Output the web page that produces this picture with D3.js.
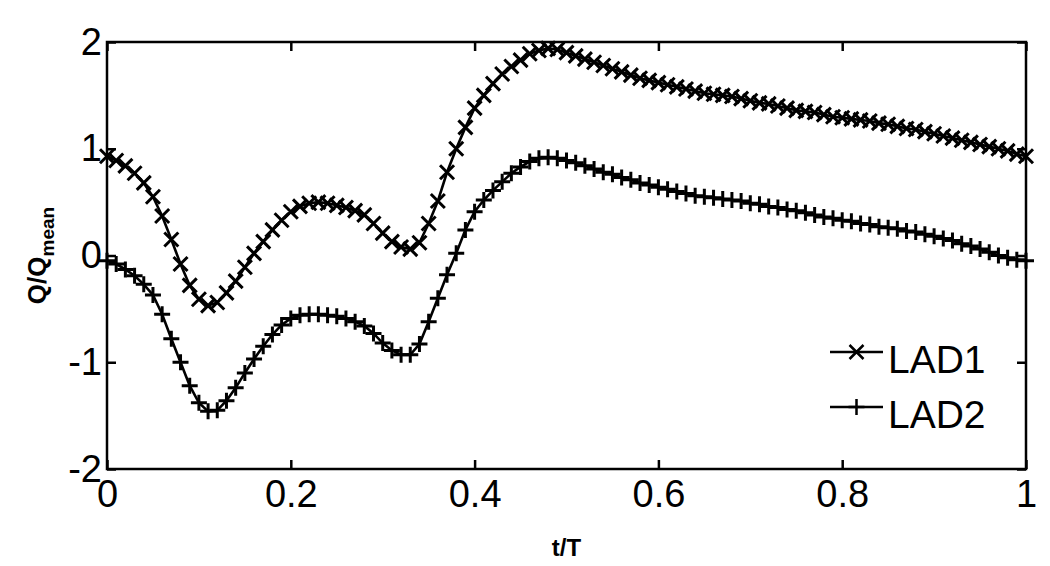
<!DOCTYPE html>
<html>
<head>
<meta charset="utf-8">
<script src="https://cdn.jsdelivr.net/npm/d3@7"></script>
<style>
  body { margin: 0; background: #fff; }
  svg { display: block; font-family: "Liberation Sans", Arial, Helvetica, sans-serif; }
</style>
</head>
<body>
<svg id="chart" width="1050" height="566"></svg>
<script>
'use strict';

// sample times t/T
var tValues = [
  0.00, 0.01, 0.02, 0.03, 0.04, 0.05, 0.06, 0.07, 0.08, 0.09,
  0.10, 0.11, 0.12, 0.13, 0.14, 0.15, 0.16, 0.17, 0.18, 0.19,
  0.20, 0.21, 0.22, 0.23, 0.24, 0.25, 0.26, 0.27, 0.28, 0.29,
  0.30, 0.31, 0.32, 0.33, 0.34, 0.35, 0.36, 0.37, 0.38, 0.39,
  0.40, 0.41, 0.42, 0.43, 0.44, 0.45, 0.46, 0.47, 0.48, 0.49,
  0.50, 0.51, 0.52, 0.53, 0.54, 0.55, 0.56, 0.57, 0.58, 0.59,
  0.60, 0.61, 0.62, 0.63, 0.64, 0.65, 0.66, 0.67, 0.68, 0.69,
  0.70, 0.71, 0.72, 0.73, 0.74, 0.75, 0.76, 0.77, 0.78, 0.79,
  0.80, 0.81, 0.82, 0.83, 0.84, 0.85, 0.86, 0.87, 0.88, 0.89,
  0.90, 0.91, 0.92, 0.93, 0.94, 0.95, 0.96, 0.97, 0.98, 0.99,
  1.00
];

// Q/Qmean, LAD1 (x markers)
var lad1 = [
  0.93, 0.89, 0.84, 0.77, 0.68, 0.55, 0.37, 0.15, -0.08, -0.28,
  -0.41, -0.47, -0.44, -0.35, -0.24, -0.11, 0.02, 0.13, 0.24, 0.33,
  0.41, 0.46, 0.49, 0.50, 0.49, 0.47, 0.45, 0.42, 0.38, 0.30,
  0.21, 0.13, 0.08, 0.06, 0.12, 0.30, 0.51, 0.78, 1.00, 1.20,
  1.38, 1.50, 1.61, 1.70, 1.77, 1.83, 1.89, 1.92, 1.94, 1.93,
  1.90, 1.87, 1.84, 1.81, 1.78, 1.75, 1.72, 1.69, 1.66, 1.64,
  1.62, 1.60, 1.58, 1.56, 1.54, 1.52, 1.51, 1.50, 1.49, 1.47,
  1.45, 1.43, 1.42, 1.40, 1.38, 1.36, 1.35, 1.34, 1.32, 1.30,
  1.29, 1.28, 1.27, 1.26, 1.24, 1.23, 1.21, 1.19, 1.18, 1.16,
  1.14, 1.12, 1.10, 1.08, 1.06, 1.04, 1.02, 1.00, 0.98, 0.95,
  0.93
];

// Q/Qmean, LAD2 (+ markers)
var lad2 = [
  -0.05, -0.08, -0.13, -0.19, -0.27, -0.37, -0.55, -0.78, -1.00, -1.22,
  -1.38, -1.46, -1.45, -1.36, -1.24, -1.10, -0.97, -0.85, -0.74, -0.65,
  -0.59, -0.56, -0.55, -0.55, -0.56, -0.57, -0.59, -0.62, -0.66, -0.73,
  -0.82, -0.89, -0.93, -0.93, -0.83, -0.62, -0.40, -0.18, 0.02, 0.24,
  0.41, 0.52, 0.61, 0.69, 0.77, 0.83, 0.88, 0.91, 0.92, 0.91,
  0.89, 0.87, 0.84, 0.81, 0.78, 0.76, 0.73, 0.71, 0.68, 0.66,
  0.64, 0.62, 0.60, 0.58, 0.56, 0.55, 0.54, 0.53, 0.52, 0.51,
  0.49, 0.48, 0.46, 0.45, 0.43, 0.42, 0.40, 0.38, 0.36, 0.35,
  0.33, 0.32, 0.30, 0.29, 0.27, 0.26, 0.25, 0.23, 0.22, 0.20,
  0.18, 0.16, 0.14, 0.11, 0.09, 0.06, 0.03, 0.00, -0.02, -0.04,
  -0.05
];

var seriesNames = ['LAD1', 'LAD2'];
var xTicks = [0, 0.2, 0.4, 0.6, 0.8, 1];
var yTicks = [-2, -1, 0, 1, 2];

var margin = {left: 107, right: 24, top: 42, bottom: 97};
var width = 1050, height = 566;
var svg = d3.select('#chart');

var x = d3.scaleLinear().domain([0, 1]).range([margin.left, width - margin.right]);
var y = d3.scaleLinear().domain([-2, 2]).range([height - margin.bottom, margin.top]);

var fmt = function(d) { return String(d); };

function styleAxis(g, showLabels) {
  g.select('.domain').remove();
  g.selectAll('.tick line').attr('stroke', '#000').attr('stroke-width', 2.5);
  g.selectAll('.tick text')
    .attr('fill', '#000')
    .style('font-size', '38px');
  if (!showLabels) {
    g.selectAll('.tick text').remove();
  }
}

svg.append('g')
  .attr('transform', 'translate(0,' + y(-2) + ')')
  .call(d3.axisBottom(x).tickValues(xTicks).tickFormat(fmt).tickSize(-9).tickPadding(11))
  .call(styleAxis, true);

svg.append('g')
  .attr('transform', 'translate(0,' + y(2) + ')')
  .call(d3.axisTop(x).tickValues(xTicks).tickSize(-9))
  .call(styleAxis, false);

svg.append('g')
  .attr('transform', 'translate(' + x(0) + ',0)')
  .call(d3.axisLeft(y).tickValues(yTicks).tickFormat(fmt).tickSize(-9).tickPadding(5))
  .call(styleAxis, true);

svg.append('g')
  .attr('transform', 'translate(' + x(1) + ',0)')
  .call(d3.axisRight(y).tickValues(yTicks).tickSize(-9))
  .call(styleAxis, false);

svg.append('rect')
  .attr('x', x(0))
  .attr('y', y(2))
  .attr('width', x(1) - x(0))
  .attr('height', y(-2) - y(2))
  .attr('fill', 'none')
  .attr('stroke', '#000')
  .attr('stroke-width', 2.5);

var markerPaths = {
  LAD1: 'M-7,-7L7,7M-7,7L7,-7',
  LAD2: 'M-8,0H8M0,-8V8'
};

function drawSeries(name, values) {
  var pts = tValues.map(function(t, i) { return [t, values[i]]; });
  var line = d3.line()
    .x(function(d) { return x(d[0]); })
    .y(function(d) { return y(d[1]); });

  svg.append('path')
    .datum(pts)
    .attr('d', line)
    .attr('fill', 'none')
    .attr('stroke', '#000')
    .attr('stroke-width', 2.6);

  svg.append('g')
    .selectAll('path')
    .data(pts)
    .enter()
    .append('path')
    .attr('transform', function(d) {
      return 'translate(' + x(d[0]) + ',' + y(d[1]) + ')';
    })
    .attr('d', markerPaths[name])
    .attr('fill', 'none')
    .attr('stroke', '#000')
    .attr('stroke-width', 3);
}

drawSeries('LAD1', lad1);
drawSeries('LAD2', lad2);

// legend
var legend = svg.append('g').attr('transform', 'translate(830,352)');
seriesNames.forEach(function(name, i) {
  var row = legend.append('g').attr('transform', 'translate(0,' + (i * 55) + ')');
  row.append('line')
    .attr('x1', 0).attr('x2', 53)
    .attr('stroke', '#000').attr('stroke-width', 2.5);
  row.append('path')
    .attr('transform', 'translate(26.5,0)')
    .attr('d', markerPaths[name])
    .attr('fill', 'none')
    .attr('stroke', '#000')
    .attr('stroke-width', 2.5);
  row.append('text')
    .attr('x', 58)
    .attr('y', 21)
    .style('font-size', '39px')
    .text(name);
});

// axis labels
svg.append('text')
  .attr('x', (x(0) + x(1)) / 2)
  .attr('y', 556)
  .attr('text-anchor', 'middle')
  .style('font-size', '24px')
  .style('font-weight', 'bold')
  .text('t/T');

var ylab = svg.append('text')
  .attr('transform', 'translate(46,' + ((y(2) + y(-2)) / 2) + ') rotate(-90)')
  .attr('text-anchor', 'middle')
  .style('font-size', '26px')
  .style('font-weight', 'bold');
ylab.append('tspan').text('Q/Q');
ylab.append('tspan')
  .attr('dy', 8)
  .style('font-size', '19px')
  .text('mean');
</script>
</body>
</html>
